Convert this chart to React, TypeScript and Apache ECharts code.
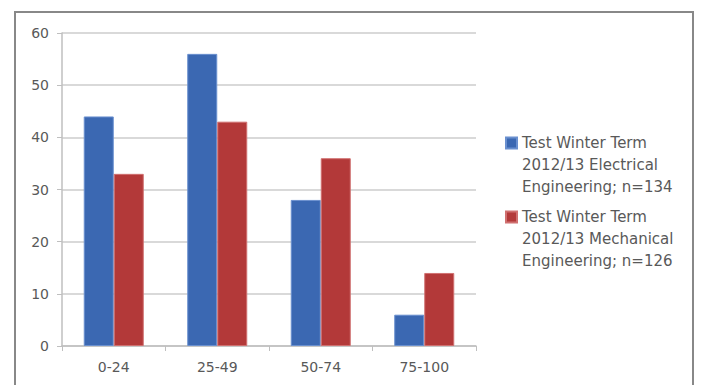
import React, { useEffect, useRef } from "react";
import * as echarts from "echarts";

const categories = ["0-24", "25-49", "50-74", "75-100"];
const electrical = [44, 56, 28, 6];
const mechanical = [33, 43, 36, 14];
const seriesNames = [
  "Test Winter Term\n2012/13 Electrical\nEngineering; n=134",
  "Test Winter Term\n2012/13 Mechanical\nEngineering; n=126",
];
const yTicks = { min: 0, max: 60, interval: 10 };

const FONT = "DejaVu Sans";
const TEXT = "#595959";

export default function App() {
  const ref = useRef<HTMLDivElement>(null);
  useEffect(() => {
    const chart = echarts.init(ref.current!, undefined, { renderer: "svg" });
    const legendBase = {
      orient: "vertical",
      left: 505,
      padding: 0,
      itemWidth: 11,
      itemHeight: 11,
      itemGap: 0,
      icon: "rect",
      selectedMode: false,
      formatter: (name: string) => "\n\n" + name,
      textStyle: {
        fontFamily: FONT,
        fontSize: 15,
        color: TEXT,
        lineHeight: 22,
      },
    };
    chart.setOption({
      animation: false,
      backgroundColor: "#ffffff",
      textStyle: { fontFamily: FONT },
      graphic: [
        {
          type: "rect",
          shape: { x: 15, y: 12, width: 678, height: 390 },
          style: { fill: "none", stroke: "#888888", lineWidth: 2 },
          silent: true,
        },
      ],
      legend: [
        { ...legendBase, top: 143 - 55, data: [seriesNames[0]] },
        { ...legendBase, top: 217 - 55, data: [seriesNames[1]] },
      ],
      grid: { left: 62, right: 226, top: 33, bottom: 39, containLabel: false },
      xAxis: {
        type: "category",
        data: categories,
        axisLine: { lineStyle: { color: "#bfbfbf", width: 1.5 } },
        axisTick: { show: true, length: 5, lineStyle: { color: "#bfbfbf" } },
        axisLabel: { color: TEXT, fontSize: 14, fontFamily: FONT, margin: 14 },
      },
      yAxis: {
        type: "value",
        min: yTicks.min,
        max: yTicks.max,
        interval: yTicks.interval,
        axisLine: { show: true, lineStyle: { color: "#bfbfbf", width: 1.5 } },
        axisTick: { show: true, length: 5, lineStyle: { color: "#bfbfbf" } },
        axisLabel: { color: TEXT, fontSize: 14, fontFamily: FONT, margin: 13 },
        splitLine: { lineStyle: { color: "#d9d9d9", width: 2 } },
      },
      series: [
        {
          name: seriesNames[0],
          type: "bar",
          data: electrical,
          barGap: "0%",
          barCategoryGap: "42%",
          itemStyle: { color: "#3b68b2", borderColor: "#6a90cf", borderWidth: 1 },
        },
        {
          name: seriesNames[1],
          type: "bar",
          data: mechanical,
          itemStyle: { color: "#b33939", borderColor: "#d07070", borderWidth: 1 },
        },
      ],
    });
    return () => chart.dispose();
  }, []);
  return (
    <div
      ref={ref}
      style={{ position: "fixed", left: 0, top: 0, width: 702, height: 385 }}
    />
  );
}
